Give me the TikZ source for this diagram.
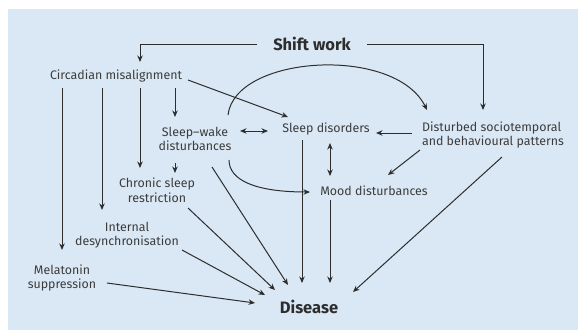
\documentclass[tikz,border=0pt]{standalone}
\usepackage{fontspec}
\setmainfont{Fira Sans}
\usetikzlibrary{arrows.meta,calc}
\definecolor{bgblue}{RGB}{218,232,245}
\definecolor{ink}{RGB}{45,45,45}
\definecolor{txt}{RGB}{60,60,60}
\tikzset{
  lbl/.style={inner sep=0pt,text=txt,font=\fontsize{12.4}{14.5}\selectfont,align=center},
  big/.style={inner sep=0pt,text=ink,font=\fontsize{16.5}{18}\selectfont\bfseries},
  arr/.style={draw=ink,line width=1pt,-{Stealth[length=6.5pt,width=5.5pt]}},
  darr/.style={draw=ink,line width=1pt,{Stealth[length=6.5pt,width=5.5pt]}-{Stealth[length=6.5pt,width=5.5pt]}},
}
\begin{document}
\begin{tikzpicture}[x=1pt,y=-1pt]
\useasboundingbox (0,0) rectangle (578,330);
\fill[bgblue] (8,9) rectangle (578,330);
\node[big] (shift) at (312,44) {Shift work};
\node[lbl] (cm) at (116,76) {Circadian misalignment};
\node[lbl] (sw) at (195,139) {Sleep--wake\\disturbances};
\node[lbl] (sd) at (326,129) {Sleep disorders};
\node[lbl,align=left] (dsb) at (493,135) {Disturbed sociotemporal\\and behavioural patterns};
\node[lbl] (csr) at (157,190) {Chronic sleep\\restriction};
\node[lbl] (ids) at (127,235) {Internal\\desynchronisation};
\node[lbl] (mel) at (62,278) {Melatonin\\suppression};
\node[lbl] (mood) at (374,191) {Mood disturbances};
\node[big] (dis) at (309,307) {Disease};
% from shift work
\draw[arr] ($(shift)+(-55,0)$) -| ($(cm)+(24,-14)$);
\draw[arr] ($(shift)+(55,0)$) -| ($(dsb)+(-10,-25)$);
% from circadian misalignment
\draw[arr] ($(cm)+(-54,12)$) -- ($(mel)+(0,-28)$);
\draw[arr] ($(cm)+(-14,12)$) -- ($(ids)+(-25,-25)$);
\draw[arr] ($(cm)+(24,12)$) -- ($(csr)+(-17,-22)$);
\draw[arr] ($(cm)+(59,12)$) -- ($(sw)+(-20,-22)$);
\draw[arr] ($(cm)+(72,4)$) -- ($(sd)+(-38,-12)$);
% sleep-wake
\draw[darr] ($(sw)+(45,-8)$) -- ($(sd)+(-58,2)$);
\draw[arr] ($(sw)+(33,-24)$) .. controls ($(sw)+(40,-84)$) and ($(dsb)+(-98,-90)$) .. ($(dsb)+(-66,-25)$);
\draw[arr] ($(sw)+(34,21)$) .. controls ($(sw)+(34,41)$) and ($(mood)+(-119,1)$) .. ($(mood)+(-64,1)$);
\draw[arr] ($(sw)+(-20,24)$) -- ($(csr)+(18,-17)$);
\draw[arr] ($(sw)+(17,28)$) -- ($(dis)+(-21,-22)$);
% disturbed patterns
\draw[arr] ($(dsb)+(-81,-2)$) -- ($(sd)+(50,4)$);
\draw[arr] ($(dsb)+(-73,15)$) -- ($(mood)+(14,-16)$);
\draw[arr] ($(dsb)+(9,22)$) -- ($(dis)+(44,-15)$);
% sleep disorders / mood
\draw[darr] ($(sd)+(4,14)$) -- ($(mood)+(-44,-15)$);
\draw[arr] ($(sd)+(-24,11)$) -- ($(dis)+(-7,-24)$);
\draw[arr] ($(mood)+(-44,9)$) -- ($(dis)+(21,-24)$);
% into disease
\draw[arr] ($(csr)+(31,18)$) -- ($(dis)+(-34,-17)$);
\draw[arr] ($(ids)+(55,15)$) -- ($(dis)+(-44,-12)$);
\draw[arr] ($(mel)+(45,5)$) -- ($(dis)+(-54,-4)$);
\end{tikzpicture}
\end{document}
